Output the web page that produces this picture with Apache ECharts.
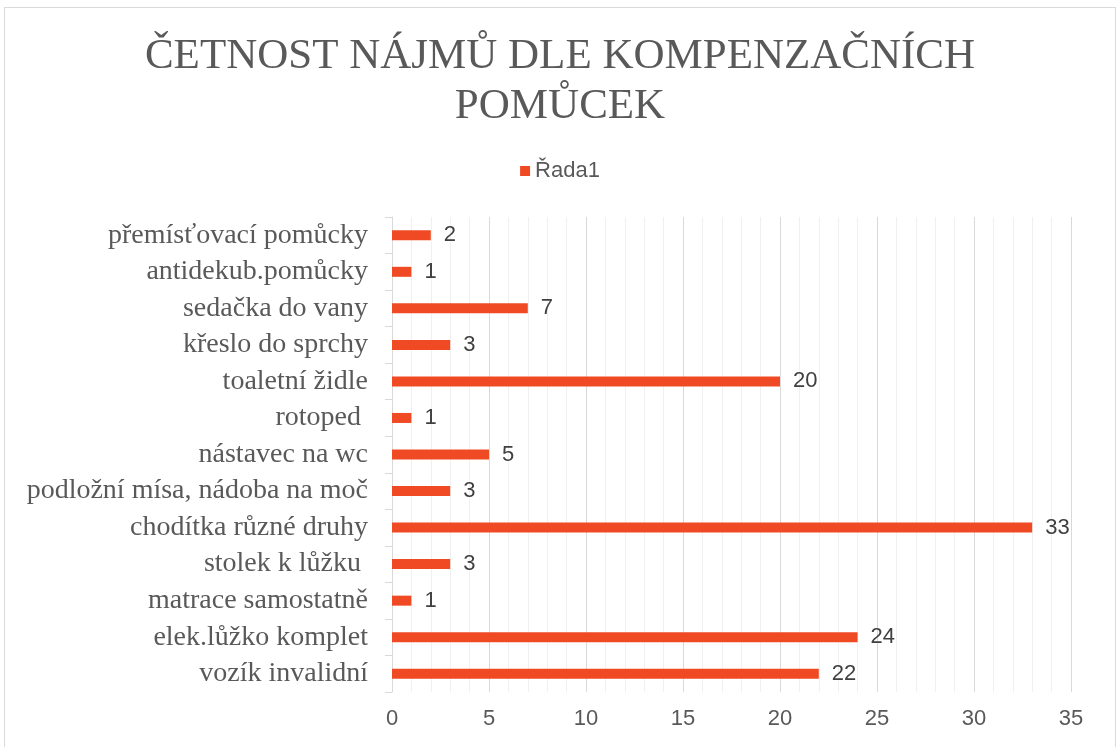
<!DOCTYPE html>
<html>
<head>
<meta charset="utf-8">
<script src="https://cdn.jsdelivr.net/npm/echarts@6/dist/echarts.min.js"></script>
<style>
html,body{margin:0;padding:0;background:#fff;}
#chart{width:1120px;height:747px;}
</style>
</head>
<body>
<div id="chart"></div>
<script>
// kategorie odspodu nahoru
var categories = ['vozík invalidní', 'elek.lůžko komplet', 'matrace samostatně', 'stolek k lůžku ',
    'chodítka různé druhy', 'podložní mísa, nádoba na moč', 'nástavec na wc', 'rotoped ',
    'toaletní židle', 'křeslo do sprchy', 'sedačka do vany', 'antidekub.pomůcky', 'přemísťovací pomůcky'];
var values = [22, 24, 1, 3, 33, 3, 5, 1, 20, 3, 7, 1, 2];
var xTicks = [0, 5, 10, 15, 20, 25, 30, 35];

var chart = echarts.init(document.getElementById('chart'));
var option = {
    backgroundColor: '#fff',
    animation: false,
    graphic: [{
        type: 'rect',
        shape: {x: 4.5, y: 7.5, width: 1111, height: 745},
        style: {fill: 'none', stroke: '#D9D9D9', lineWidth: 1}
    }],
    title: {
        text: 'ČETNOST NÁJMŮ DLE KOMPENZAČNÍCH\nPOMŮCEK',
        left: 'center',
        top: 27,
        textStyle: {
            fontFamily: 'Liberation Serif',
            fontWeight: 'normal',
            fontSize: 43,
            lineHeight: 50,
            color: '#595959'
        }
    },
    legend: {
        data: ['Řada1'],
        left: 'center',
        top: 155,
        itemWidth: 10,
        itemHeight: 10,
        itemGap: 4,
        icon: 'rect',
        textStyle: {
            fontFamily: 'Liberation Sans',
            fontSize: 22,
            color: '#595959',
            padding: [0, 0, 0, 0]
        }
    },
    grid: {
        left: 392,
        right: 49,
        top: 217,
        bottom: 55,
        containLabel: false
    },
    xAxis: {
        type: 'value',
        min: xTicks[0],
        max: xTicks[xTicks.length - 1],
        interval: xTicks[1] - xTicks[0],
        axisLine: {show: false},
        axisTick: {show: false},
        axisLabel: {
            fontFamily: 'Liberation Sans',
            fontSize: 22,
            color: '#595959',
            margin: 16
        },
        splitLine: {lineStyle: {color: '#D9D9D9', width: 1}},
        minorTick: {show: false, splitNumber: 5},
        minorSplitLine: {show: true, lineStyle: {color: '#F0F0F0', width: 1}}
    },
    yAxis: {
        type: 'category',
        data: categories,
        axisLine: {lineStyle: {color: '#D9D9D9', width: 1}},
        axisTick: {show: true, length: 7, lineStyle: {color: '#D9D9D9'}},
        axisLabel: {
            fontFamily: 'Liberation Serif',
            fontSize: 28,
            color: '#595959',
            margin: 24
        }
    },
    series: [{
        name: 'Řada1',
        type: 'bar',
        data: values,
        barWidth: 10,
        itemStyle: {color: '#EF4A24'},
        label: {
            show: true,
            position: 'right',
            distance: 13,
            fontFamily: 'Liberation Sans',
            fontSize: 22,
            color: '#404040'
        }
    }]
};
chart.setOption(option);
</script>
</body>
</html>
